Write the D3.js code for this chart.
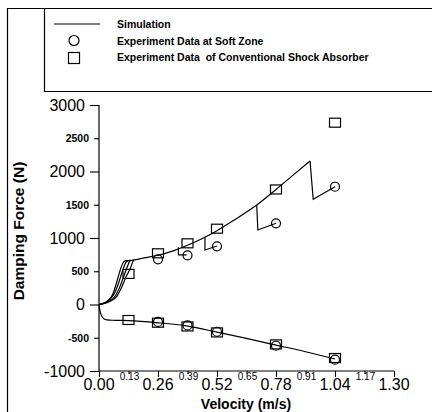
<!DOCTYPE html>
<html><head><meta charset="utf-8">
<script src="https://cdn.jsdelivr.net/npm/d3@7"></script>
<style>body{margin:0;background:#fff}svg{display:block}text{font-family:"Liberation Sans",Arial,sans-serif;fill:#000}</style>
</head><body><svg id="c" width="432" height="412"></svg>
<script>
// ---- data ----
const majorXTicks = [0.00, 0.26, 0.52, 0.78, 1.04, 1.30];
const minorXTicks = [0.13, 0.39, 0.65, 0.91, 1.17];
const majorYTicks = [-1000, 0, 1000, 2000, 3000];
const minorYTicks = [-500, 500, 1500, 2500];

// simulation: compression main curve [velocity, force]
const simMain = [[0,0],[0.02,20],[0.04,60],[0.06,150],[0.075,300],[0.09,480],[0.105,620],[0.115,655],[0.15,668],[0.2,700],[0.26,740],[0.33,810],[0.39,890],[0.46,1000],[0.52,1110],[0.6,1280],[0.695,1496],[0.78,1730],[0.85,1930],[0.93,2158]];
// hysteresis bundle near low velocity
const simLoop2 = [[0,0],[0.03,30],[0.05,80],[0.07,180],[0.09,360],[0.105,520],[0.12,640],[0.13,660]];
const simLoop3 = [[0,0],[0.04,40],[0.07,120],[0.09,250],[0.11,430],[0.125,570],[0.135,650],[0.14,662]];
const simLoop4 = [[0,0],[0.05,50],[0.08,130],[0.10,260],[0.12,420],[0.14,560],[0.15,650],[0.155,668]];
// soft-zone branches
const simBranch1 = [[0.35,860],[0.35,745],[0.386,745]];
const simBranch2 = [[0.467,1020],[0.467,820],[0.52,880]];
const simBranch3 = [[0.695,1496],[0.70,1120],[0.78,1221]];
const simBranch4 = [[0.93,2158],[0.944,1582],[1.04,1771]];
// rebound curve
const simRebound = [[0,0],[0.004,-90],[0.01,-160],[0.02,-210],[0.035,-232],[0.07,-238],[0.13,-242],[0.26,-275],[0.39,-325],[0.52,-415],[0.65,-510],[0.78,-610],[0.91,-710],[1.04,-820]];

const softV = [0.26, 0.39, 0.52, 0.78, 1.04, 0.26, 0.39, 0.52, 0.78, 1.04];
const softF = [680, 740, 875, 1221, 1771, -262, -315, -410, -620, -830];
const convV = [0.13, 0.26, 0.39, 0.52, 0.78, 1.04, 0.13, 0.26, 0.39, 0.52, 0.78, 1.04];
const convF = [460, 770, 920, 1140, 1730, 2734, -233, -274, -330, -420, -600, -805];

const legendLabels = ["Simulation", "Experiment Data at Soft Zone", "Experiment Data  of Conventional Shock Absorber"];

// ---- drawing ----
const svg = d3.select("#c");
const x = d3.scaleLinear().domain([0, 1.3]).range([99, 394]);
const y = d3.scaleLinear().domain([-1000, 3000]).range([371, 105]);

// outer frame & legend box
svg.append("path").attr("d","M7.5,412 V8.5 H432").attr("fill","none").attr("stroke","#000").attr("stroke-width",1.2);
svg.append("path").attr("d","M44.5,8.5 V91.5 H432").attr("fill","none").attr("stroke","#000").attr("stroke-width",1.2);

// legend
const lg = svg.append("g");
lg.append("line").attr("x1",54).attr("x2",100).attr("y1",24).attr("y2",24).attr("stroke","#000").attr("stroke-width",1.2);
lg.append("circle").attr("cx",74).attr("cy",40.5).attr("r",5).attr("fill","none").attr("stroke","#000").attr("stroke-width",1.2);
lg.append("rect").attr("x",68.5).attr("y",52.5).attr("width",11).attr("height",11).attr("fill","none").attr("stroke","#000").attr("stroke-width",1.2);
legendLabels.forEach((t,i)=>{
  lg.append("text").attr("x",117).attr("y",28+i*16.5).attr("font-size",10.5).attr("font-weight","bold").text(t).style("white-space","pre");
});

// axes
const gx = svg.append("g").attr("transform","translate(0,371)")
  .call(d3.axisBottom(x).tickValues(majorXTicks).tickSize(6).tickFormat(""));
gx.append("g").call(d3.axisBottom(x).tickValues(minorXTicks).tickSize(3).tickFormat("")).call(g=>g.select(".domain").remove());
const gy = svg.append("g").attr("transform","translate(99,0)")
  .call(d3.axisLeft(y).tickValues(majorYTicks).tickSize(9).tickFormat(""));
gy.append("g").call(d3.axisLeft(y).tickValues(minorYTicks).tickSize(5).tickFormat("")).call(g=>g.select(".domain").remove());
svg.selectAll(".domain").attr("stroke-width",1.2);
svg.selectAll(".tick line").attr("stroke-width",1.1);
gx.select(".domain").attr("d","M99,0H394");
gy.select(".domain").attr("d","M0,105V371");

// tick labels
const f2 = d3.format(".2f");
svg.append("g").selectAll("text").data(majorXTicks).join("text")
  .attr("x",d=>x(d)).attr("y",390).attr("text-anchor","middle").attr("font-size",16).text(f2);
svg.append("g").selectAll("text").data(minorXTicks).join("text")
  .attr("x",d=>x(d)+1).attr("y",380).attr("text-anchor","middle").attr("font-size",10).text(f2);
svg.append("g").selectAll("text").data(majorYTicks).join("text")
  .attr("x",85).attr("y",d=>y(d)+5.5).attr("text-anchor","end").attr("font-size",16).text(d=>d);
svg.append("g").selectAll("text").data(minorYTicks).join("text")
  .attr("x",89).attr("y",d=>y(d)+4).attr("text-anchor","end").attr("font-size",10.5).attr("font-weight","bold").text(d=>d);

// axis titles
svg.append("text").attr("x",246).attr("y",409).attr("text-anchor","middle").attr("font-size",14).attr("font-weight","bold").text("Velocity (m/s)");
svg.append("text").attr("transform","translate(24,231) rotate(-90)").attr("text-anchor","middle").attr("font-size",15.5).attr("font-weight","bold").text("Damping Force (N)");

// lines
const line = d3.line().x(d=>x(d[0])).y(d=>y(d[1]));
const curveLine = d3.line().x(d=>x(d[0])).y(d=>y(d[1])).curve(d3.curveMonotoneX);
[simMain, simLoop2, simLoop3, simLoop4, simRebound].forEach(s=>{
  svg.append("path").attr("d",curveLine(s)).attr("fill","none").attr("stroke","#000").attr("stroke-width",1.2);
});
[simBranch1, simBranch2, simBranch3, simBranch4].forEach(s=>{
  svg.append("path").attr("d",line(s)).attr("fill","none").attr("stroke","#000").attr("stroke-width",1.2);
});

// markers
svg.append("g").selectAll("rect").data(convV.map((v,i)=>[v,convF[i]])).join("rect")
  .attr("x",d=>x(d[0])-5.5).attr("y",d=>y(d[1])-4.5).attr("width",11).attr("height",9)
  .attr("fill","none").attr("stroke","#000").attr("stroke-width",1.2);
svg.append("g").selectAll("circle").data(softV.map((v,i)=>[v,softF[i]])).join("circle")
  .attr("cx",d=>x(d[0])).attr("cy",d=>y(d[1])).attr("r",4.5)
  .attr("fill","none").attr("stroke","#000").attr("stroke-width",1.2);
</script></body></html>
